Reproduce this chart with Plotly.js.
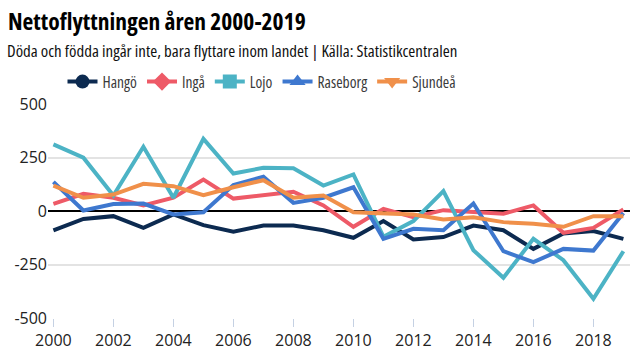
<!DOCTYPE html>
<html>
<head>
<meta charset="utf-8">
<script src="https://cdn.plot.ly/plotly-3.0.1.min.js"></script>
<style>
html,body{margin:0;padding:0;background:#fff;}
#chart{width:640px;height:360px;}
svg text{font-stretch:75%;}
.xtick text,.ytick text{font-stretch:90% !important;}
</style>
</head>
<body>
<div id="chart"></div>
<script>
const years = [2000,2001,2002,2003,2004,2005,2006,2007,2008,2009,2010,2011,2012,2013,2014,2015,2016,2017,2018,2019];
const hango = [-91,-37,-24,-79,-16,-66,-97,-68,-68,-90,-125,-47,-133,-122,-68,-90,-177,-105,-94,-130];
const inga = [33,80,62,26,62,147,58,72,90,26,-74,10,-29,4,-6,-13,26,-102,-79,7];
const lojo = [311,249,72,300,62,337,175,202,200,119,171,-120,-47,93,-183,-312,-130,-230,-410,-188];
const raseborg = [136,2,33,35,-16,-6,121,160,38,62,111,-130,-83,-90,35,-188,-239,-177,-185,-9];
const sjundea = [119,62,77,127,116,74,111,144,62,72,-6,-9,-16,-40,-29,-52,-60,-74,-24,-24];
const seriesNames = ['Hangö','Ingå','Lojo','Raseborg','Sjundeå'];
const seriesValues = [hango, inga, lojo, raseborg, sjundea];
const colors = ['#0c2a50','#ee5a67','#4cb3c5','#3e78cf','#f0904a'];
const symbols = ['circle','diamond','square','triangle-up','triangle-down'];
const tickVals = [2000,2002,2004,2006,2008,2010,2012,2014,2016,2018];
const yTicks = [-500,-250,0,250,500];
const FONT = 'Open Sans, sans-serif';

const dataTraces = seriesNames.map((n,i)=>({
  x: years, y: seriesValues[i], name: n, type:'scatter', mode:'lines',
  line:{color:colors[i], width:4}, showlegend:false, legendgroup:n,
  hoverinfo:'skip'
}));
const legendTraces = seriesNames.map((n,i)=>({
  x: [null], y: [null], name: n, type:'scatter', mode:'lines+markers',
  line:{color:colors[i], width:4}, legendgroup:n,
  marker:{symbol:symbols[i], size:14, color:colors[i], line:{width:0}},
  hoverinfo:'skip'
}));

const layout = {
  width:640, height:360,
  margin:{l:48, r:10, t:104, b:42},
  paper_bgcolor:'#fff', plot_bgcolor:'#fff',
  font:{family:FONT, size:15, color:'#222'},
  title:{text:'<b>Nettoflyttningen åren 2000-2019</b>', x:8/640, xref:'container', xanchor:'left', y:1-22/360, yref:'container', yanchor:'middle', font:{family:FONT, size:23.5, color:'#000'}},
  annotations:[{text:'Döda och födda ingår inte, bara flyttare inom landet | Källa: Statistikcentralen', xref:'paper', yref:'paper', x:(5-48)/582, y:1.0+(104-50)/214, xanchor:'left', yanchor:'middle', showarrow:false, font:{family:FONT, size:16.9, color:'#111'}}],
  showlegend:true,
  legend:{orientation:'h', x:(262-48)/582, xanchor:'center', y:1+(104-82)/214, yanchor:'middle', font:{family:FONT, size:15.5, color:'#3a3a3a'}, itemwidth:30, tracegroupgap:0, traceorder:'normal'},
  xaxis:{range:[1999.82,2019.22], tickvals:tickVals, ticktext:tickVals.map(String), showgrid:false, zeroline:false, ticks:'outside', ticklen:8, tickcolor:'#c5d1e3', tickwidth:1, showline:false, tickfont:{family:FONT,size:16,color:'#222'}, fixedrange:true},
  yaxis:{range:[-500,500], tickvals:yTicks, ticktext:yTicks.map(String), showgrid:true, gridcolor:'#e3e3e3', gridwidth:2, zeroline:true, zerolinecolor:'#000', zerolinewidth:2, ticks:'', tickfont:{family:FONT,size:16,color:'#222'}, fixedrange:true}
};
Plotly.newPlot('chart', dataTraces.concat(legendTraces), layout, {displayModeBar:false, staticPlot:true});
</script>
</body>
</html>
